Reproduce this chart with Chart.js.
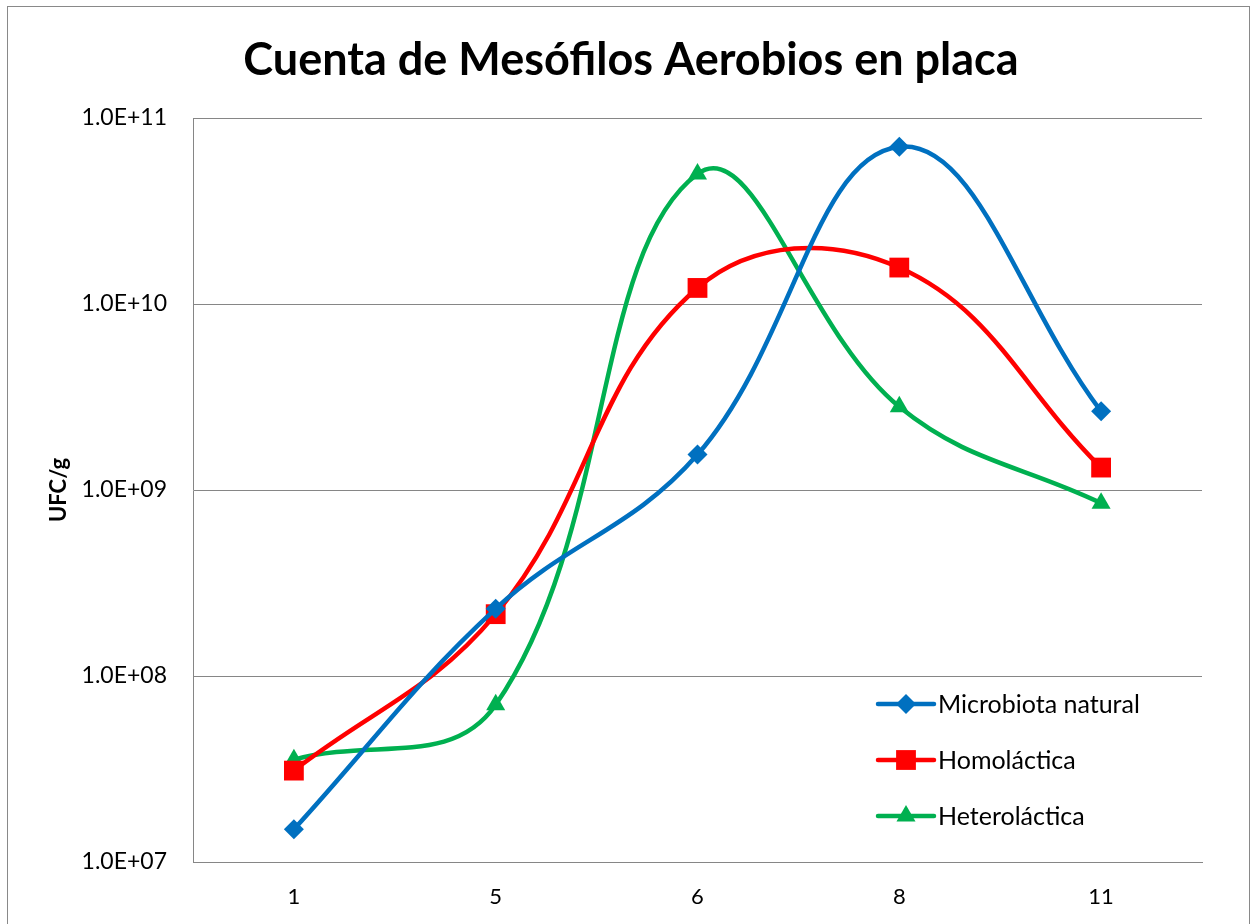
<!DOCTYPE html>
<html>
<head>
<meta charset="utf-8">
<script src="https://cdn.jsdelivr.net/npm/chart.js@4.4.1/dist/chart.umd.min.js"></script>
<style>
  html, body { margin: 0; padding: 0; background: #fff; }
  #wrap { position: relative; width: 1259px; height: 924px; overflow: hidden; }
  #frame { position: absolute; left: 7px; top: 6px; width: 1243px; height: 940px; border: 1px solid #898989; box-sizing: border-box; }
  canvas { position: absolute; left: 0; top: 0; }
</style>
</head>
<body>
<div id="wrap">
  <div id="frame"></div>
  <canvas id="chart" width="1259" height="924"></canvas>
</div>
<script>
// data (UFC/g, log scale)
const days = ['1', '5', '6', '8', '11'];
const microbiota = [1.5e7, 2.3e8, 1.55e9, 7.0e10, 2.65e9];
const homolactica = [3.1e7, 2.15e8, 1.22e10, 1.57e10, 1.32e9];
const heterolactica = [3.55e7, 7.0e7, 5.0e10, 2.8e9, 8.5e8];
const yTicks = [1e7, 1e8, 1e9, 1e10, 1e11];

const chartTitle = 'Cuenta de Mesófilos Aerobios en placa';
const fontFamily = 'Lato, "Open Sans", sans-serif';

function sciLabel(v) {
  const exp = Math.round(Math.log10(v));
  const mant = v / Math.pow(10, exp);
  return mant.toFixed(1) + 'E+' + String(exp).padStart(2, '0');
}

// title drawn by hand so it can be centred on the whole frame
const frameTitle = {
  id: 'frameTitle',
  afterDraw(chart) {
    const ctx = chart.ctx;
    ctx.save();
    ctx.fillStyle = '#000';
    ctx.font = 'bold 45px ' + fontFamily;
    ctx.textAlign = 'center';
    ctx.textBaseline = 'middle';
    ctx.fillText(chartTitle, 631, 60);
    ctx.restore();
  }
};

// legend sits inside the plot, bottom right
const insideLegend = {
  id: 'insideLegend',
  afterDraw(chart) {
    const { ctx, chartArea } = chart;
    const x0 = chartArea.right - 324;
    let y = chartArea.bottom - 158;
    chart.data.datasets.forEach((ds) => {
      ctx.save();
      ctx.strokeStyle = ds.borderColor;
      ctx.lineWidth = ds.borderWidth;
      ctx.lineCap = 'round';
      ctx.beginPath();
      ctx.moveTo(x0, y);
      ctx.lineTo(x0 + 56, y);
      ctx.stroke();
      ctx.fillStyle = ds.pointBackgroundColor;
      ctx.strokeStyle = ds.pointBorderColor;
      Chart.helpers.drawPoint(ctx, {
        pointStyle: ds.pointStyle,
        radius: ds.pointRadius,
        borderWidth: 0,
        rotation: 0
      }, x0 + 28, y);
      ctx.fillStyle = '#000';
      ctx.font = '25px ' + fontFamily;
      ctx.textAlign = 'left';
      ctx.textBaseline = 'middle';
      ctx.fillText(ds.label, x0 + 60, y + 1);
      ctx.restore();
      y += 56;
    });
  }
};

function series(label, data, color, style, radius) {
  return {
    label: label,
    data: data,
    borderColor: color,
    backgroundColor: color,
    pointBackgroundColor: color,
    pointBorderColor: color,
    pointBorderWidth: 0,
    borderWidth: 4.5,
    pointStyle: style,
    pointRadius: radius,
    pointHoverRadius: radius,
    tension: 0.4,
    fill: false
  };
}

const ctx = document.getElementById('chart');
new Chart(ctx, {
  type: 'line',
  data: {
    labels: days,
    datasets: [
      series('Microbiota natural', microbiota, '#0070C0', 'rectRot', 10),
      series('Homoláctica', homolactica, '#FF0000', 'rect', 14),
      series('Heteroláctica', heterolactica, '#00B050', 'triangle', 11)
    ]
  },
  options: {
    responsive: false,
    animation: false,
    layout: { padding: { top: 118, right: 57, bottom: 0, left: 0 } },
    plugins: {
      legend: { display: false },
      title: { display: false },
      tooltip: { enabled: false }
    },
    scales: {
      x: {
        offset: true,
        afterFit: (s) => { s.height = 62; },
        grid: { display: false, drawTicks: false },
        border: { color: '#868686', width: 1 },
        ticks: { color: '#000', font: { family: fontFamily, size: 22 }, padding: 22 }
      },
      y: {
        type: 'logarithmic',
        min: 1e7,
        max: 1e11,
        afterBuildTicks: (s) => { s.ticks = yTicks.map((v) => ({ value: v })); },
        afterFit: (s) => { s.width = 193; },
        grid: { color: '#868686', lineWidth: 1, drawTicks: false },
        border: { color: '#868686', width: 1 },
        ticks: {
          color: '#000',
          font: { family: fontFamily, size: 23 },
          padding: 26,
          callback: (v) => sciLabel(v)
        },
        title: {
          display: true,
          text: 'UFC/g',
          color: '#000',
          font: { family: fontFamily, size: 22, weight: 'bold' },
          padding: { top: 46, bottom: 0 }
        }
      }
    }
  },
  plugins: [frameTitle, insideLegend]
});
</script>
</body>
</html>
